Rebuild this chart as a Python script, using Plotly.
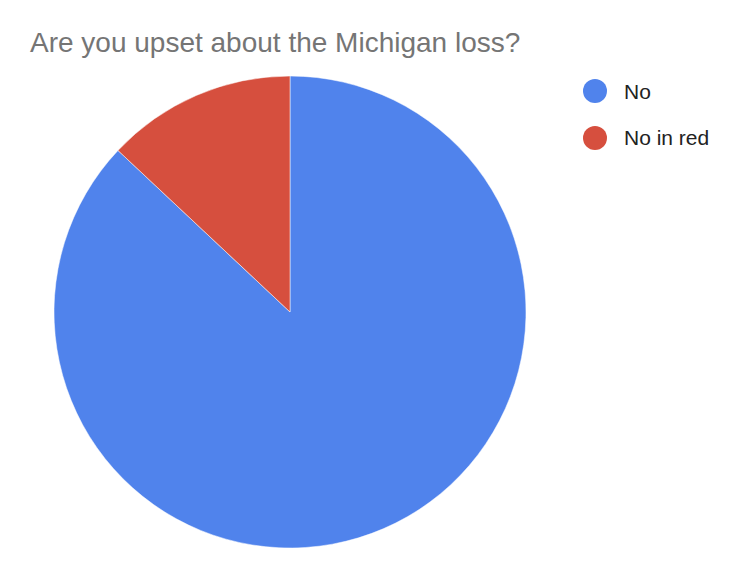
import plotly.graph_objects as go

labels = ["No", "No in red"]
values = [87, 13]
colors = ["#5083EC", "#D64F3E"]
title = "Are you upset about the Michigan loss?"

W, H = 750, 587
dx, dy = -8, -8
fig = go.Figure(go.Pie(
    labels=labels, values=values, sort=False, direction="clockwise", rotation=0,
    marker=dict(colors=colors, line=dict(color="white", width=0.5)),
    textinfo="none", hoverinfo="label+percent", showlegend=False,
    domain=dict(x=[(54+dx)/W, (526+dx)/W], y=[1-(548+dy)/H, 1-(76+dy)/H]),
))
fig.update_layout(
    width=W, height=H, margin=dict(l=0, r=0, t=0, b=0),
    paper_bgcolor="white", font=dict(family="Liberation Sans, Arial"),
    title=dict(text=title, x=(30+dx)/W, xanchor="left", y=1-(42+dy)/H, yanchor="middle",
               font=dict(size=28, color="#757575")),
)
for i, (lab, c) in enumerate(zip(labels, colors)):
    cy = 91 + i*47 + dy
    fig.add_shape(type="circle", xref="paper", yref="paper",
                  x0=(583+dx)/W, x1=(607+dx)/W, y0=1-(cy+12)/H, y1=1-(cy-12)/H,
                  fillcolor=c, line=dict(width=0))
    fig.add_annotation(text=lab, xref="paper", yref="paper", x=(622+dx)/W, y=1-cy/H,
                       xanchor="left", yanchor="middle", showarrow=False,
                       font=dict(size=21, color="#222222"))
fig.write_html("out.html")
